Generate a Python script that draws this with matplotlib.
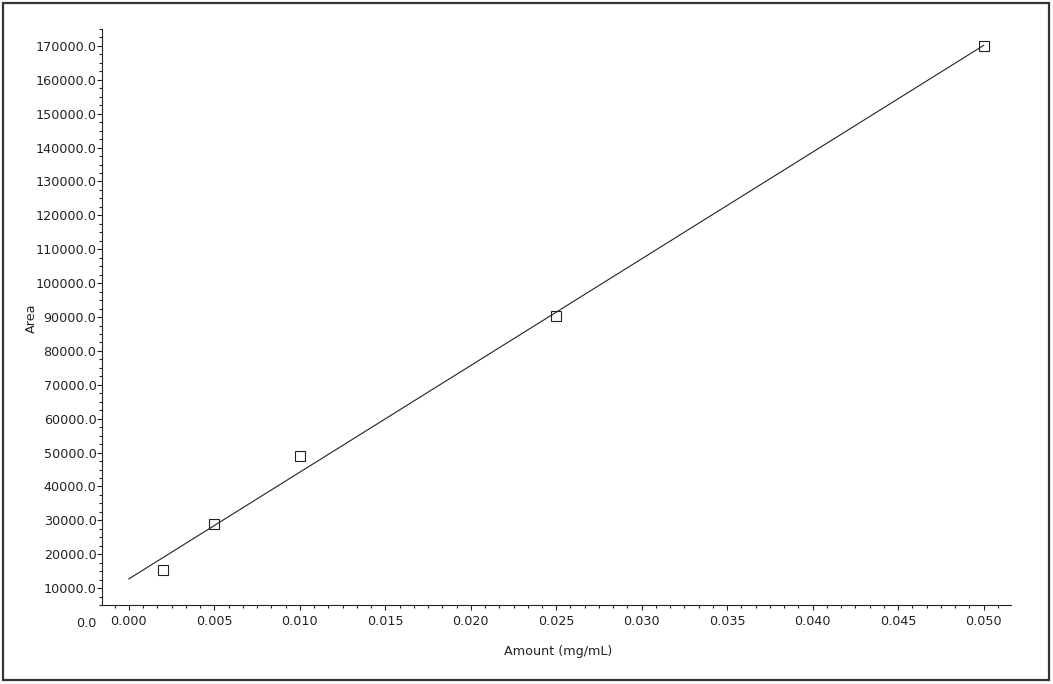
import matplotlib
matplotlib.use("Agg")
import matplotlib.pyplot as plt
import numpy as np
from matplotlib.patches import Rectangle
from matplotlib.ticker import FixedLocator, FormatStrFormatter, MultipleLocator

# calibration standards
amount = [0.002, 0.005, 0.010, 0.025, 0.050]
area = [15300, 28900, 48900, 90300, 169900]
fit_x = [0.0, 0.050]

x_label = "Amount (mg/mL)"
y_label = "Area"

ink = "#222222"
plt.rcParams["font.family"] = "DejaVu Sans"

fig = plt.figure(figsize=(10.53, 6.84), dpi=100)
fig.patches.append(Rectangle((0.00285, 0.00585), 0.9934, 0.9898, transform=fig.transFigure,
                             fill=False, edgecolor="#333333", linewidth=1.6))

ax = fig.add_axes([102 / 1053, 62 / 684, 909 / 1053, 593 / 684])

slope, intercept = np.polyfit(amount, area, 1)
fx = np.array(fit_x)
ax.plot(fx, slope * fx + intercept, color=ink, linewidth=0.8)
ax.plot(amount, area, linestyle="none", marker="s", markersize=7.5, fillstyle="none",
        markeredgecolor=ink, markeredgewidth=0.8)

ax.set_xlim(-0.00157, 0.0516)
ax.set_ylim(0, 175000)

for side in ("top", "right"):
    ax.spines[side].set_visible(False)
ax.spines["left"].set_bounds(5000, 175000)
ax.spines["bottom"].set_position(("data", 5000))
for side in ("left", "bottom"):
    ax.spines[side].set_color(ink)
    ax.spines[side].set_linewidth(0.8)

ax.xaxis.set_major_locator(MultipleLocator(0.005))
ax.xaxis.set_minor_locator(MultipleLocator(0.005 / 6))
ax.xaxis.set_major_formatter(FormatStrFormatter("%.3f"))
ax.yaxis.set_major_locator(FixedLocator(np.arange(0, 170001, 10000)))
ax.yaxis.set_minor_locator(FixedLocator(np.arange(5000, 175001, 2500)))
ax.yaxis.set_major_formatter(FormatStrFormatter("%.1f"))

ax.tick_params(which="both", direction="out", colors=ink, labelsize=9.2, width=0.8)
ax.tick_params(which="major", length=3.5)
ax.tick_params(which="minor", length=2.2)
ax.tick_params(axis="x", which="major", pad=3.5)
ax.tick_params(axis="y", which="major", pad=0.5)

fig.canvas.draw()
ax.yaxis.get_major_ticks()[0].tick1line.set_visible(False)

ax.set_xlabel(x_label, fontsize=9.2, color=ink)
ax.set_ylabel(y_label, fontsize=9.2, color=ink)
ax.xaxis.set_label_coords(0.502, -0.038)
ax.yaxis.set_label_coords(-0.071, 0.513)

fig.savefig("out.png", dpi=100)
